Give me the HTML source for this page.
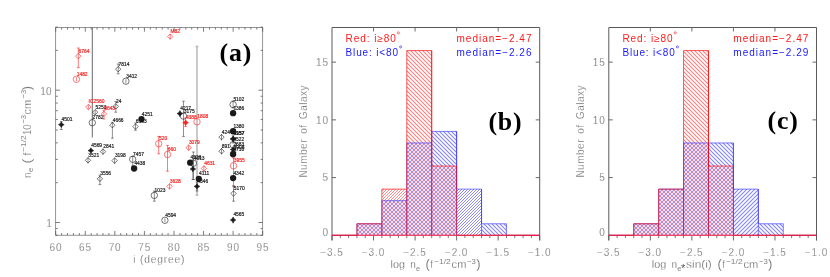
<!DOCTYPE html>
<html><head><meta charset="utf-8"><title>figure</title>
<style>
html,body{margin:0;padding:0;background:#fff;}
body{width:830px;height:277px;overflow:hidden;font-family:"Liberation Sans",sans-serif;}
svg{display:block;font-family:"Liberation Sans",sans-serif;will-change:transform;}
.ser{font-family:"Liberation Serif",serif;}
</style></head><body>
<svg width="830" height="277" viewBox="0 0 830 277">
<defs><pattern id="hrb" width="4" height="4" patternUnits="userSpaceOnUse"><path d="M-1 -1L5 5M-1 3L1 5M3 -1L5 1" stroke="#f00" stroke-width="1.1" stroke-opacity="0.5" fill="none"/></pattern><pattern id="hrf" width="3" height="3" patternUnits="userSpaceOnUse"><path d="M-1 4L4 -1M-1 1L1 -1M2 4L4 2" stroke="#f00" stroke-width="0.9" stroke-opacity="0.5" fill="none"/></pattern><pattern id="hbb" width="4" height="4" patternUnits="userSpaceOnUse"><path d="M-1 -1L5 5M-1 3L1 5M3 -1L5 1" stroke="#00f" stroke-width="1.1" stroke-opacity="0.48" fill="none"/></pattern><pattern id="hbf" width="3" height="3" patternUnits="userSpaceOnUse"><path d="M-1 4L4 -1M-1 1L1 -1M2 4L4 2" stroke="#00f" stroke-width="0.9" stroke-opacity="0.5" fill="none"/></pattern><pattern id="hbF" width="4" height="4" patternUnits="userSpaceOnUse"><path d="M-1 5L5 -1M-1 1L1 -1M3 5L5 3" stroke="#00f" stroke-width="1.1" stroke-opacity="0.48" fill="none"/></pattern><pattern id="hx" width="4" height="4" patternUnits="userSpaceOnUse"><path d="M-1 -1L5 5M-1 3L1 5M3 -1L5 1" stroke="#f00" stroke-width="1.1" stroke-opacity="0.42" fill="none"/><path d="M-1 5L5 -1M-1 1L1 -1M3 5L5 3" stroke="#00f" stroke-width="1.05" stroke-opacity="0.4" fill="none"/></pattern><filter id="bl" x="-2%" y="-2%" width="104%" height="104%"><feGaussianBlur stdDeviation="0.55"/></filter><filter id="blb" x="-2%" y="-2%" width="104%" height="104%"><feGaussianBlur stdDeviation="0.45"/></filter><filter id="blF" x="-2%" y="-2%" width="104%" height="104%"><feGaussianBlur stdDeviation="0.45"/></filter><filter id="blf" x="-2%" y="-2%" width="104%" height="104%"><feGaussianBlur stdDeviation="0.25"/></filter></defs>
<rect width="830" height="277" fill="#fff"/>
<g id="pa">
<rect x="55.7" y="27.5" width="207.00" height="207.70" fill="none" stroke="#666" stroke-width="0.7"/>
<line x1="55.70" y1="235.20" x2="55.70" y2="231.00" stroke="#5a5a5a" stroke-width="0.8" />
<line x1="55.70" y1="27.50" x2="55.70" y2="31.70" stroke="#5a5a5a" stroke-width="0.8" />
<line x1="61.61" y1="235.20" x2="61.61" y2="233.10" stroke="#5a5a5a" stroke-width="0.8" />
<line x1="61.61" y1="27.50" x2="61.61" y2="29.60" stroke="#5a5a5a" stroke-width="0.8" />
<line x1="67.53" y1="235.20" x2="67.53" y2="233.10" stroke="#5a5a5a" stroke-width="0.8" />
<line x1="67.53" y1="27.50" x2="67.53" y2="29.60" stroke="#5a5a5a" stroke-width="0.8" />
<line x1="73.44" y1="235.20" x2="73.44" y2="233.10" stroke="#5a5a5a" stroke-width="0.8" />
<line x1="73.44" y1="27.50" x2="73.44" y2="29.60" stroke="#5a5a5a" stroke-width="0.8" />
<line x1="79.36" y1="235.20" x2="79.36" y2="233.10" stroke="#5a5a5a" stroke-width="0.8" />
<line x1="79.36" y1="27.50" x2="79.36" y2="29.60" stroke="#5a5a5a" stroke-width="0.8" />
<line x1="85.27" y1="235.20" x2="85.27" y2="231.00" stroke="#5a5a5a" stroke-width="0.8" />
<line x1="85.27" y1="27.50" x2="85.27" y2="31.70" stroke="#5a5a5a" stroke-width="0.8" />
<line x1="91.19" y1="235.20" x2="91.19" y2="233.10" stroke="#5a5a5a" stroke-width="0.8" />
<line x1="91.19" y1="27.50" x2="91.19" y2="29.60" stroke="#5a5a5a" stroke-width="0.8" />
<line x1="97.10" y1="235.20" x2="97.10" y2="233.10" stroke="#5a5a5a" stroke-width="0.8" />
<line x1="97.10" y1="27.50" x2="97.10" y2="29.60" stroke="#5a5a5a" stroke-width="0.8" />
<line x1="103.01" y1="235.20" x2="103.01" y2="233.10" stroke="#5a5a5a" stroke-width="0.8" />
<line x1="103.01" y1="27.50" x2="103.01" y2="29.60" stroke="#5a5a5a" stroke-width="0.8" />
<line x1="108.93" y1="235.20" x2="108.93" y2="233.10" stroke="#5a5a5a" stroke-width="0.8" />
<line x1="108.93" y1="27.50" x2="108.93" y2="29.60" stroke="#5a5a5a" stroke-width="0.8" />
<line x1="114.84" y1="235.20" x2="114.84" y2="231.00" stroke="#5a5a5a" stroke-width="0.8" />
<line x1="114.84" y1="27.50" x2="114.84" y2="31.70" stroke="#5a5a5a" stroke-width="0.8" />
<line x1="120.76" y1="235.20" x2="120.76" y2="233.10" stroke="#5a5a5a" stroke-width="0.8" />
<line x1="120.76" y1="27.50" x2="120.76" y2="29.60" stroke="#5a5a5a" stroke-width="0.8" />
<line x1="126.67" y1="235.20" x2="126.67" y2="233.10" stroke="#5a5a5a" stroke-width="0.8" />
<line x1="126.67" y1="27.50" x2="126.67" y2="29.60" stroke="#5a5a5a" stroke-width="0.8" />
<line x1="132.59" y1="235.20" x2="132.59" y2="233.10" stroke="#5a5a5a" stroke-width="0.8" />
<line x1="132.59" y1="27.50" x2="132.59" y2="29.60" stroke="#5a5a5a" stroke-width="0.8" />
<line x1="138.50" y1="235.20" x2="138.50" y2="233.10" stroke="#5a5a5a" stroke-width="0.8" />
<line x1="138.50" y1="27.50" x2="138.50" y2="29.60" stroke="#5a5a5a" stroke-width="0.8" />
<line x1="144.41" y1="235.20" x2="144.41" y2="231.00" stroke="#5a5a5a" stroke-width="0.8" />
<line x1="144.41" y1="27.50" x2="144.41" y2="31.70" stroke="#5a5a5a" stroke-width="0.8" />
<line x1="150.33" y1="235.20" x2="150.33" y2="233.10" stroke="#5a5a5a" stroke-width="0.8" />
<line x1="150.33" y1="27.50" x2="150.33" y2="29.60" stroke="#5a5a5a" stroke-width="0.8" />
<line x1="156.24" y1="235.20" x2="156.24" y2="233.10" stroke="#5a5a5a" stroke-width="0.8" />
<line x1="156.24" y1="27.50" x2="156.24" y2="29.60" stroke="#5a5a5a" stroke-width="0.8" />
<line x1="162.16" y1="235.20" x2="162.16" y2="233.10" stroke="#5a5a5a" stroke-width="0.8" />
<line x1="162.16" y1="27.50" x2="162.16" y2="29.60" stroke="#5a5a5a" stroke-width="0.8" />
<line x1="168.07" y1="235.20" x2="168.07" y2="233.10" stroke="#5a5a5a" stroke-width="0.8" />
<line x1="168.07" y1="27.50" x2="168.07" y2="29.60" stroke="#5a5a5a" stroke-width="0.8" />
<line x1="173.99" y1="235.20" x2="173.99" y2="231.00" stroke="#5a5a5a" stroke-width="0.8" />
<line x1="173.99" y1="27.50" x2="173.99" y2="31.70" stroke="#5a5a5a" stroke-width="0.8" />
<line x1="179.90" y1="235.20" x2="179.90" y2="233.10" stroke="#5a5a5a" stroke-width="0.8" />
<line x1="179.90" y1="27.50" x2="179.90" y2="29.60" stroke="#5a5a5a" stroke-width="0.8" />
<line x1="185.81" y1="235.20" x2="185.81" y2="233.10" stroke="#5a5a5a" stroke-width="0.8" />
<line x1="185.81" y1="27.50" x2="185.81" y2="29.60" stroke="#5a5a5a" stroke-width="0.8" />
<line x1="191.73" y1="235.20" x2="191.73" y2="233.10" stroke="#5a5a5a" stroke-width="0.8" />
<line x1="191.73" y1="27.50" x2="191.73" y2="29.60" stroke="#5a5a5a" stroke-width="0.8" />
<line x1="197.64" y1="235.20" x2="197.64" y2="233.10" stroke="#5a5a5a" stroke-width="0.8" />
<line x1="197.64" y1="27.50" x2="197.64" y2="29.60" stroke="#5a5a5a" stroke-width="0.8" />
<line x1="203.56" y1="235.20" x2="203.56" y2="231.00" stroke="#5a5a5a" stroke-width="0.8" />
<line x1="203.56" y1="27.50" x2="203.56" y2="31.70" stroke="#5a5a5a" stroke-width="0.8" />
<line x1="209.47" y1="235.20" x2="209.47" y2="233.10" stroke="#5a5a5a" stroke-width="0.8" />
<line x1="209.47" y1="27.50" x2="209.47" y2="29.60" stroke="#5a5a5a" stroke-width="0.8" />
<line x1="215.39" y1="235.20" x2="215.39" y2="233.10" stroke="#5a5a5a" stroke-width="0.8" />
<line x1="215.39" y1="27.50" x2="215.39" y2="29.60" stroke="#5a5a5a" stroke-width="0.8" />
<line x1="221.30" y1="235.20" x2="221.30" y2="233.10" stroke="#5a5a5a" stroke-width="0.8" />
<line x1="221.30" y1="27.50" x2="221.30" y2="29.60" stroke="#5a5a5a" stroke-width="0.8" />
<line x1="227.21" y1="235.20" x2="227.21" y2="233.10" stroke="#5a5a5a" stroke-width="0.8" />
<line x1="227.21" y1="27.50" x2="227.21" y2="29.60" stroke="#5a5a5a" stroke-width="0.8" />
<line x1="233.13" y1="235.20" x2="233.13" y2="231.00" stroke="#5a5a5a" stroke-width="0.8" />
<line x1="233.13" y1="27.50" x2="233.13" y2="31.70" stroke="#5a5a5a" stroke-width="0.8" />
<line x1="239.04" y1="235.20" x2="239.04" y2="233.10" stroke="#5a5a5a" stroke-width="0.8" />
<line x1="239.04" y1="27.50" x2="239.04" y2="29.60" stroke="#5a5a5a" stroke-width="0.8" />
<line x1="244.96" y1="235.20" x2="244.96" y2="233.10" stroke="#5a5a5a" stroke-width="0.8" />
<line x1="244.96" y1="27.50" x2="244.96" y2="29.60" stroke="#5a5a5a" stroke-width="0.8" />
<line x1="250.87" y1="235.20" x2="250.87" y2="233.10" stroke="#5a5a5a" stroke-width="0.8" />
<line x1="250.87" y1="27.50" x2="250.87" y2="29.60" stroke="#5a5a5a" stroke-width="0.8" />
<line x1="256.79" y1="235.20" x2="256.79" y2="233.10" stroke="#5a5a5a" stroke-width="0.8" />
<line x1="256.79" y1="27.50" x2="256.79" y2="29.60" stroke="#5a5a5a" stroke-width="0.8" />
<line x1="262.70" y1="235.20" x2="262.70" y2="231.00" stroke="#5a5a5a" stroke-width="0.8" />
<line x1="262.70" y1="27.50" x2="262.70" y2="31.70" stroke="#5a5a5a" stroke-width="0.8" />
<line x1="55.70" y1="235.32" x2="57.80" y2="235.32" stroke="#5a5a5a" stroke-width="0.8" />
<line x1="262.70" y1="235.32" x2="260.60" y2="235.32" stroke="#5a5a5a" stroke-width="0.8" />
<line x1="55.70" y1="228.55" x2="57.80" y2="228.55" stroke="#5a5a5a" stroke-width="0.8" />
<line x1="262.70" y1="228.55" x2="260.60" y2="228.55" stroke="#5a5a5a" stroke-width="0.8" />
<line x1="55.70" y1="222.50" x2="59.90" y2="222.50" stroke="#5a5a5a" stroke-width="0.8" />
<line x1="262.70" y1="222.50" x2="258.50" y2="222.50" stroke="#5a5a5a" stroke-width="0.8" />
<line x1="55.70" y1="182.67" x2="57.80" y2="182.67" stroke="#5a5a5a" stroke-width="0.8" />
<line x1="262.70" y1="182.67" x2="260.60" y2="182.67" stroke="#5a5a5a" stroke-width="0.8" />
<line x1="55.70" y1="159.38" x2="57.80" y2="159.38" stroke="#5a5a5a" stroke-width="0.8" />
<line x1="262.70" y1="159.38" x2="260.60" y2="159.38" stroke="#5a5a5a" stroke-width="0.8" />
<line x1="55.70" y1="142.85" x2="57.80" y2="142.85" stroke="#5a5a5a" stroke-width="0.8" />
<line x1="262.70" y1="142.85" x2="260.60" y2="142.85" stroke="#5a5a5a" stroke-width="0.8" />
<line x1="55.70" y1="130.03" x2="57.80" y2="130.03" stroke="#5a5a5a" stroke-width="0.8" />
<line x1="262.70" y1="130.03" x2="260.60" y2="130.03" stroke="#5a5a5a" stroke-width="0.8" />
<line x1="55.70" y1="119.55" x2="57.80" y2="119.55" stroke="#5a5a5a" stroke-width="0.8" />
<line x1="262.70" y1="119.55" x2="260.60" y2="119.55" stroke="#5a5a5a" stroke-width="0.8" />
<line x1="55.70" y1="110.69" x2="57.80" y2="110.69" stroke="#5a5a5a" stroke-width="0.8" />
<line x1="262.70" y1="110.69" x2="260.60" y2="110.69" stroke="#5a5a5a" stroke-width="0.8" />
<line x1="55.70" y1="103.02" x2="57.80" y2="103.02" stroke="#5a5a5a" stroke-width="0.8" />
<line x1="262.70" y1="103.02" x2="260.60" y2="103.02" stroke="#5a5a5a" stroke-width="0.8" />
<line x1="55.70" y1="96.25" x2="57.80" y2="96.25" stroke="#5a5a5a" stroke-width="0.8" />
<line x1="262.70" y1="96.25" x2="260.60" y2="96.25" stroke="#5a5a5a" stroke-width="0.8" />
<line x1="55.70" y1="90.20" x2="59.90" y2="90.20" stroke="#5a5a5a" stroke-width="0.8" />
<line x1="262.70" y1="90.20" x2="258.50" y2="90.20" stroke="#5a5a5a" stroke-width="0.8" />
<line x1="55.70" y1="50.37" x2="57.80" y2="50.37" stroke="#5a5a5a" stroke-width="0.8" />
<line x1="262.70" y1="50.37" x2="260.60" y2="50.37" stroke="#5a5a5a" stroke-width="0.8" />
<line x1="55.70" y1="27.08" x2="57.80" y2="27.08" stroke="#5a5a5a" stroke-width="0.8" />
<line x1="262.70" y1="27.08" x2="260.60" y2="27.08" stroke="#5a5a5a" stroke-width="0.8" />
<text x="56.00" y="251.10" font-size="10" fill="#444" text-anchor="middle" letter-spacing="0.9" stroke="#fff" stroke-width="0.3" >60</text>
<text x="85.57" y="251.10" font-size="10" fill="#444" text-anchor="middle" letter-spacing="0.9" stroke="#fff" stroke-width="0.3" >65</text>
<text x="115.14" y="251.10" font-size="10" fill="#444" text-anchor="middle" letter-spacing="0.9" stroke="#fff" stroke-width="0.3" >70</text>
<text x="144.71" y="251.10" font-size="10" fill="#444" text-anchor="middle" letter-spacing="0.9" stroke="#fff" stroke-width="0.3" >75</text>
<text x="174.29" y="251.10" font-size="10" fill="#444" text-anchor="middle" letter-spacing="0.9" stroke="#fff" stroke-width="0.3" >80</text>
<text x="203.86" y="251.10" font-size="10" fill="#444" text-anchor="middle" letter-spacing="0.9" stroke="#fff" stroke-width="0.3" >85</text>
<text x="233.43" y="251.10" font-size="10" fill="#444" text-anchor="middle" letter-spacing="0.9" stroke="#fff" stroke-width="0.3" >90</text>
<text x="263.00" y="251.10" font-size="10" fill="#444" text-anchor="middle" letter-spacing="0.9" stroke="#fff" stroke-width="0.3" >95</text>
<text x="51.90" y="94.70" font-size="10" fill="#444" text-anchor="end" letter-spacing="0.2" stroke="#fff" stroke-width="0.3" >10</text>
<text x="51.90" y="226.50" font-size="10" fill="#444" text-anchor="end" letter-spacing="0.2" stroke="#fff" stroke-width="0.3" >1</text>
<text x="159.20" y="262.80" font-size="10.2" fill="#444" text-anchor="middle" letter-spacing="0.85" stroke="#fff" stroke-width="0.3" >i (degree)</text>
<text transform="translate(30.90,178.10) rotate(-90)" font-size="10.2" fill="#444" stroke="#fff" stroke-width="0.3">n</text>
<text transform="translate(33.30,171.90) rotate(-90)" font-size="7.6" fill="#828282" >e</text>
<text transform="translate(30.90,163.20) rotate(-90)" font-size="13" fill="#444" stroke="#fff" stroke-width="0.3">(</text>
<text transform="translate(30.90,155.40) rotate(-90)" font-size="10.2" fill="#444" stroke="#fff" stroke-width="0.3">f</text>
<text transform="translate(26.20,151.80) rotate(-90)" font-size="7.8" fill="#828282"  textLength="16.4" lengthAdjust="spacingAndGlyphs">−1/2</text>
<text transform="translate(30.90,135.10) rotate(-90)" font-size="10.2" fill="#444" stroke="#fff" stroke-width="0.3" textLength="10.8" lengthAdjust="spacingAndGlyphs">10</text>
<text transform="translate(26.20,123.60) rotate(-90)" font-size="7.8" fill="#828282"  textLength="8.6" lengthAdjust="spacingAndGlyphs">−3</text>
<text transform="translate(30.90,114.50) rotate(-90)" font-size="10.2" fill="#444" stroke="#fff" stroke-width="0.3" textLength="14.9" lengthAdjust="spacingAndGlyphs">cm</text>
<text transform="translate(26.20,98.50) rotate(-90)" font-size="7.8" fill="#828282"  textLength="8.6" lengthAdjust="spacingAndGlyphs">−3</text>
<text transform="translate(30.90,90.30) rotate(-90)" font-size="13" fill="#444" stroke="#fff" stroke-width="0.3">)</text>
<line x1="92.30" y1="27.50" x2="92.30" y2="137.50" stroke="#444" stroke-width="0.8" />
<circle cx="92.30" cy="122.70" r="3.2" fill="none" stroke="#1a1a1a" stroke-width="0.6"/>
<text x="92.60" y="119.10" font-size="4.9" fill="#1a1a1a" stroke="#1a1a1a" stroke-width="0.18" letter-spacing="0">2782</text>
<line x1="197.00" y1="46.40" x2="197.00" y2="195.10" stroke="#b8b8b8" stroke-width="1.5" />
<line x1="195.60" y1="46.40" x2="198.40" y2="46.40" stroke="#b8b8b8" stroke-width="1.5" />
<line x1="195.60" y1="195.10" x2="198.40" y2="195.10" stroke="#b8b8b8" stroke-width="1.5" />
<circle cx="197.00" cy="121.80" r="3.2" fill="none" stroke="#fa2020" stroke-width="0.6"/>
<text x="197.30" y="118.20" font-size="4.9" fill="#fa2020" stroke="#fa2020" stroke-width="0.18" letter-spacing="0">1808</text>
<line x1="78.30" y1="48.00" x2="78.30" y2="67.70" stroke="#fa2020" stroke-width="0.6" />
<line x1="76.90" y1="48.00" x2="79.70" y2="48.00" stroke="#fa2020" stroke-width="0.6" />
<line x1="76.90" y1="67.70" x2="79.70" y2="67.70" stroke="#fa2020" stroke-width="0.6" />
<path d="M78.30 53.40L81.00 56.10L78.30 58.80L75.60 56.10Z" fill="none" stroke="#fa2020" stroke-width="0.6"/>
<text x="78.60" y="52.50" font-size="4.9" fill="#fa2020" stroke="#fa2020" stroke-width="0.18" letter-spacing="0">6764</text>
<line x1="76.40" y1="77.30" x2="76.40" y2="81.30" stroke="#fa2020" stroke-width="0.6" />
<circle cx="76.40" cy="79.30" r="3.2" fill="none" stroke="#fa2020" stroke-width="0.6"/>
<text x="76.70" y="75.70" font-size="4.9" fill="#fa2020" stroke="#fa2020" stroke-width="0.18" letter-spacing="0">1482</text>
<line x1="118.20" y1="64.00" x2="118.20" y2="73.80" stroke="#444" stroke-width="0.6" />
<line x1="116.80" y1="64.00" x2="119.60" y2="64.00" stroke="#444" stroke-width="0.6" />
<line x1="116.80" y1="73.80" x2="119.60" y2="73.80" stroke="#444" stroke-width="0.6" />
<path d="M118.20 66.50L120.90 69.20L118.20 71.90L115.50 69.20Z" fill="none" stroke="#1a1a1a" stroke-width="0.6"/>
<text x="118.50" y="65.60" font-size="4.9" fill="#1a1a1a" stroke="#1a1a1a" stroke-width="0.18" letter-spacing="0">7814</text>
<line x1="125.90" y1="79.20" x2="125.90" y2="83.20" stroke="#444" stroke-width="0.6" />
<circle cx="125.90" cy="81.20" r="3.2" fill="none" stroke="#1a1a1a" stroke-width="0.6"/>
<text x="126.20" y="77.60" font-size="4.9" fill="#1a1a1a" stroke="#1a1a1a" stroke-width="0.18" letter-spacing="0">3412</text>
<line x1="88.30" y1="104.50" x2="88.30" y2="109.50" stroke="#fa2020" stroke-width="0.6" />
<path d="M88.30 104.30L91.00 107.00L88.30 109.70L85.60 107.00Z" fill="none" stroke="#fa2020" stroke-width="0.6"/>
<text x="88.60" y="103.40" font-size="4.9" fill="#fa2020" stroke="#fa2020" stroke-width="0.18" letter-spacing="0">IC2560</text>
<line x1="95.20" y1="110.00" x2="95.20" y2="114.50" stroke="#444" stroke-width="0.6" />
<path d="M95.20 109.50L97.90 112.20L95.20 114.90L92.50 112.20Z" fill="none" stroke="#1a1a1a" stroke-width="0.6"/>
<text x="95.50" y="108.60" font-size="4.9" fill="#1a1a1a" stroke="#1a1a1a" stroke-width="0.18" letter-spacing="0">5253</text>
<line x1="103.90" y1="110.30" x2="103.90" y2="119.00" stroke="#fa2020" stroke-width="0.6" />
<line x1="102.50" y1="110.30" x2="105.30" y2="110.30" stroke="#fa2020" stroke-width="0.6" />
<line x1="102.50" y1="119.00" x2="105.30" y2="119.00" stroke="#fa2020" stroke-width="0.6" />
<path d="M103.90 111.20L106.60 113.90L103.90 116.60L101.20 113.90Z" fill="none" stroke="#fa2020" stroke-width="0.6"/>
<text x="104.20" y="110.30" font-size="4.9" fill="#fa2020" stroke="#fa2020" stroke-width="0.18" letter-spacing="0">5643</text>
<line x1="115.80" y1="101.60" x2="115.80" y2="112.20" stroke="#444" stroke-width="0.6" />
<line x1="114.40" y1="101.60" x2="117.20" y2="101.60" stroke="#444" stroke-width="0.6" />
<line x1="114.40" y1="112.20" x2="117.20" y2="112.20" stroke="#444" stroke-width="0.6" />
<path d="M115.80 103.70L118.50 106.40L115.80 109.10L113.10 106.40Z" fill="none" stroke="#1a1a1a" stroke-width="0.6"/>
<text x="116.10" y="102.80" font-size="4.9" fill="#1a1a1a" stroke="#1a1a1a" stroke-width="0.18" letter-spacing="0">24</text>
<circle cx="141.50" cy="119.10" r="3.15" fill="#1a1a1a"/>
<text x="141.80" y="115.50" font-size="4.9" fill="#1a1a1a" stroke="#1a1a1a" stroke-width="0.18" letter-spacing="0">4251</text>
<line x1="61.30" y1="121.60" x2="61.30" y2="129.50" stroke="#444" stroke-width="0.6" />
<line x1="59.90" y1="121.60" x2="62.70" y2="121.60" stroke="#444" stroke-width="0.6" />
<line x1="59.90" y1="129.50" x2="62.70" y2="129.50" stroke="#444" stroke-width="0.6" />
<path d="M61.30 121.80L62.40 123.60L64.20 124.70L62.40 125.80L61.30 127.60L60.20 125.80L58.40 124.70L60.20 123.60Z" fill="#1a1a1a" stroke="#1a1a1a" stroke-width="0.5"/>
<text x="61.60" y="121.10" font-size="4.9" fill="#1a1a1a" stroke="#1a1a1a" stroke-width="0.18" letter-spacing="0">4501</text>
<line x1="112.40" y1="122.30" x2="112.40" y2="138.20" stroke="#444" stroke-width="0.6" />
<line x1="111.00" y1="122.30" x2="113.80" y2="122.30" stroke="#444" stroke-width="0.6" />
<line x1="111.00" y1="138.20" x2="113.80" y2="138.20" stroke="#444" stroke-width="0.6" />
<path d="M112.40 122.50L115.10 125.20L112.40 127.90L109.70 125.20Z" fill="none" stroke="#1a1a1a" stroke-width="0.6"/>
<text x="112.70" y="121.60" font-size="4.9" fill="#1a1a1a" stroke="#1a1a1a" stroke-width="0.18" letter-spacing="0">4666</text>
<line x1="135.50" y1="123.00" x2="135.50" y2="130.20" stroke="#444" stroke-width="0.6" />
<line x1="134.10" y1="123.00" x2="136.90" y2="123.00" stroke="#444" stroke-width="0.6" />
<line x1="134.10" y1="130.20" x2="136.90" y2="130.20" stroke="#444" stroke-width="0.6" />
<path d="M135.50 123.90L138.20 126.60L135.50 129.30L132.80 126.60Z" fill="none" stroke="#1a1a1a" stroke-width="0.6"/>
<text x="135.80" y="123.00" font-size="4.9" fill="#1a1a1a" stroke="#1a1a1a" stroke-width="0.18" letter-spacing="0">6503</text>
<line x1="158.70" y1="136.40" x2="158.70" y2="153.80" stroke="#fa2020" stroke-width="0.6" />
<line x1="157.30" y1="136.40" x2="160.10" y2="136.40" stroke="#fa2020" stroke-width="0.6" />
<line x1="157.30" y1="153.80" x2="160.10" y2="153.80" stroke="#fa2020" stroke-width="0.6" />
<circle cx="158.70" cy="143.70" r="3.2" fill="none" stroke="#fa2020" stroke-width="0.6"/>
<text x="159.00" y="140.10" font-size="4.9" fill="#fa2020" stroke="#fa2020" stroke-width="0.18" letter-spacing="0">520</text>
<line x1="167.50" y1="145.40" x2="167.50" y2="171.20" stroke="#fa2020" stroke-width="0.6" />
<line x1="166.10" y1="145.40" x2="168.90" y2="145.40" stroke="#fa2020" stroke-width="0.6" />
<line x1="166.10" y1="171.20" x2="168.90" y2="171.20" stroke="#fa2020" stroke-width="0.6" />
<circle cx="167.50" cy="154.50" r="3.2" fill="none" stroke="#fa2020" stroke-width="0.6"/>
<text x="167.80" y="150.90" font-size="4.9" fill="#fa2020" stroke="#fa2020" stroke-width="0.18" letter-spacing="0">660</text>
<path d="M90.90 147.70L92.00 149.50L93.80 150.60L92.00 151.70L90.90 153.50L89.80 151.70L88.00 150.60L89.80 149.50Z" fill="#1a1a1a" stroke="#1a1a1a" stroke-width="0.5"/>
<text x="91.20" y="147.00" font-size="4.9" fill="#1a1a1a" stroke="#1a1a1a" stroke-width="0.18" letter-spacing="0">4569</text>
<line x1="103.00" y1="148.50" x2="103.00" y2="154.80" stroke="#444" stroke-width="0.6" />
<path d="M103.00 148.90L105.70 151.60L103.00 154.30L100.30 151.60Z" fill="none" stroke="#1a1a1a" stroke-width="0.6"/>
<text x="103.30" y="148.00" font-size="4.9" fill="#1a1a1a" stroke="#1a1a1a" stroke-width="0.18" letter-spacing="0">2841</text>
<line x1="88.00" y1="157.20" x2="88.00" y2="163.50" stroke="#444" stroke-width="0.6" />
<path d="M88.00 157.60L90.70 160.30L88.00 163.00L85.30 160.30Z" fill="none" stroke="#1a1a1a" stroke-width="0.6"/>
<text x="88.30" y="156.70" font-size="4.9" fill="#1a1a1a" stroke="#1a1a1a" stroke-width="0.18" letter-spacing="0">3521</text>
<line x1="114.60" y1="157.40" x2="114.60" y2="164.00" stroke="#444" stroke-width="0.6" />
<path d="M114.60 157.90L117.30 160.60L114.60 163.30L111.90 160.60Z" fill="none" stroke="#1a1a1a" stroke-width="0.6"/>
<text x="114.90" y="157.00" font-size="4.9" fill="#1a1a1a" stroke="#1a1a1a" stroke-width="0.18" letter-spacing="0">3198</text>
<line x1="132.70" y1="156.50" x2="132.70" y2="166.00" stroke="#444" stroke-width="0.6" />
<line x1="131.30" y1="156.50" x2="134.10" y2="156.50" stroke="#444" stroke-width="0.6" />
<line x1="131.30" y1="166.00" x2="134.10" y2="166.00" stroke="#444" stroke-width="0.6" />
<circle cx="132.70" cy="159.30" r="3.2" fill="none" stroke="#1a1a1a" stroke-width="0.6"/>
<text x="133.00" y="155.70" font-size="4.9" fill="#1a1a1a" stroke="#1a1a1a" stroke-width="0.18" letter-spacing="0">7457</text>
<circle cx="134.10" cy="168.50" r="3.15" fill="#1a1a1a"/>
<text x="134.40" y="164.90" font-size="4.9" fill="#1a1a1a" stroke="#1a1a1a" stroke-width="0.18" letter-spacing="0">4438</text>
<line x1="99.90" y1="175.20" x2="99.90" y2="184.60" stroke="#444" stroke-width="0.6" />
<line x1="98.50" y1="175.20" x2="101.30" y2="175.20" stroke="#444" stroke-width="0.6" />
<line x1="98.50" y1="184.60" x2="101.30" y2="184.60" stroke="#444" stroke-width="0.6" />
<path d="M99.90 176.10L102.60 178.80L99.90 181.50L97.20 178.80Z" fill="none" stroke="#1a1a1a" stroke-width="0.6"/>
<text x="100.20" y="175.20" font-size="4.9" fill="#1a1a1a" stroke="#1a1a1a" stroke-width="0.18" letter-spacing="0">3556</text>
<line x1="154.30" y1="191.00" x2="154.30" y2="201.20" stroke="#444" stroke-width="0.6" />
<line x1="152.90" y1="191.00" x2="155.70" y2="191.00" stroke="#444" stroke-width="0.6" />
<line x1="152.90" y1="201.20" x2="155.70" y2="201.20" stroke="#444" stroke-width="0.6" />
<circle cx="154.30" cy="195.40" r="3.2" fill="none" stroke="#1a1a1a" stroke-width="0.6"/>
<text x="154.60" y="191.80" font-size="4.9" fill="#1a1a1a" stroke="#1a1a1a" stroke-width="0.18" letter-spacing="0">1023</text>
<line x1="164.90" y1="218.30" x2="164.90" y2="222.30" stroke="#444" stroke-width="0.6" />
<circle cx="164.90" cy="220.30" r="3.2" fill="none" stroke="#1a1a1a" stroke-width="0.6"/>
<text x="165.20" y="216.70" font-size="4.9" fill="#1a1a1a" stroke="#1a1a1a" stroke-width="0.18" letter-spacing="0">4594</text>
<line x1="170.20" y1="34.00" x2="170.20" y2="39.20" stroke="#fa2020" stroke-width="0.6" />
<path d="M170.20 33.90L172.90 36.60L170.20 39.30L167.50 36.60Z" fill="none" stroke="#fa2020" stroke-width="0.6"/>
<text x="170.50" y="33.00" font-size="4.9" fill="#fa2020" stroke="#fa2020" stroke-width="0.18" letter-spacing="0">M82</text>
<line x1="179.90" y1="110.50" x2="179.90" y2="116.50" stroke="#444" stroke-width="0.6" />
<path d="M179.90 110.70L181.00 112.50L182.80 113.60L181.00 114.70L179.90 116.50L178.80 114.70L177.00 113.60L178.80 112.50Z" fill="#1a1a1a" stroke="#1a1a1a" stroke-width="0.5"/>
<text x="180.20" y="110.00" font-size="4.9" fill="#1a1a1a" stroke="#1a1a1a" stroke-width="0.18" letter-spacing="0">4217</text>
<line x1="183.50" y1="101.20" x2="183.50" y2="136.40" stroke="#444" stroke-width="0.6" />
<line x1="182.10" y1="101.20" x2="184.90" y2="101.20" stroke="#444" stroke-width="0.6" />
<line x1="182.10" y1="136.40" x2="184.90" y2="136.40" stroke="#444" stroke-width="0.6" />
<circle cx="183.50" cy="116.10" r="3.2" fill="none" stroke="#1a1a1a" stroke-width="0.6"/>
<text x="183.80" y="112.50" font-size="4.9" fill="#1a1a1a" stroke="#1a1a1a" stroke-width="0.18" letter-spacing="0">3175</text>
<line x1="185.60" y1="118.00" x2="185.60" y2="126.60" stroke="#fa2020" stroke-width="0.6" />
<line x1="184.20" y1="118.00" x2="187.00" y2="118.00" stroke="#fa2020" stroke-width="0.6" />
<line x1="184.20" y1="126.60" x2="187.00" y2="126.60" stroke="#fa2020" stroke-width="0.6" />
<path d="M185.60 119.80L186.70 121.60L188.50 122.70L186.70 123.80L185.60 125.60L184.50 123.80L182.70 122.70L184.50 121.60Z" fill="#fa2020" stroke="#fa2020" stroke-width="0.5"/>
<text x="185.90" y="119.10" font-size="4.9" fill="#fa2020" stroke="#fa2020" stroke-width="0.18" letter-spacing="0">4388</text>
<line x1="233.10" y1="101.00" x2="233.10" y2="108.00" stroke="#444" stroke-width="0.6" />
<line x1="231.70" y1="101.00" x2="234.50" y2="101.00" stroke="#444" stroke-width="0.6" />
<line x1="231.70" y1="108.00" x2="234.50" y2="108.00" stroke="#444" stroke-width="0.6" />
<circle cx="233.10" cy="104.50" r="3.2" fill="none" stroke="#1a1a1a" stroke-width="0.6"/>
<text x="233.40" y="100.90" font-size="4.9" fill="#1a1a1a" stroke="#1a1a1a" stroke-width="0.18" letter-spacing="0">5102</text>
<circle cx="233.10" cy="113.20" r="3.15" fill="#1a1a1a"/>
<text x="233.40" y="109.60" font-size="4.9" fill="#1a1a1a" stroke="#1a1a1a" stroke-width="0.18" letter-spacing="0">1386</text>
<circle cx="233.10" cy="131.20" r="3.15" fill="#1a1a1a"/>
<text x="233.40" y="127.60" font-size="4.9" fill="#1a1a1a" stroke="#1a1a1a" stroke-width="0.18" letter-spacing="0">1380</text>
<line x1="221.50" y1="134.00" x2="221.50" y2="140.50" stroke="#444" stroke-width="0.6" />
<path d="M221.50 134.40L224.20 137.10L221.50 139.80L218.80 137.10Z" fill="none" stroke="#1a1a1a" stroke-width="0.6"/>
<text x="221.80" y="133.50" font-size="4.9" fill="#1a1a1a" stroke="#1a1a1a" stroke-width="0.18" letter-spacing="0">4244</text>
<line x1="233.10" y1="135.00" x2="233.10" y2="143.00" stroke="#444" stroke-width="0.6" />
<line x1="231.70" y1="135.00" x2="234.50" y2="135.00" stroke="#444" stroke-width="0.6" />
<line x1="231.70" y1="143.00" x2="234.50" y2="143.00" stroke="#444" stroke-width="0.6" />
<path d="M233.10 136.00L234.20 137.80L236.00 138.90L234.20 140.00L233.10 141.80L232.00 140.00L230.20 138.90L232.00 137.80Z" fill="#1a1a1a" stroke="#1a1a1a" stroke-width="0.5"/>
<text x="233.40" y="135.30" font-size="4.9" fill="#1a1a1a" stroke="#1a1a1a" stroke-width="0.18" letter-spacing="0">4157</text>
<path d="M233.30 136.00L234.40 137.80L236.20 138.90L234.40 140.00L233.30 141.80L232.20 140.00L230.40 138.90L232.20 137.80Z" fill="#1a1a1a" stroke="#1a1a1a" stroke-width="0.5"/>
<text x="233.60" y="135.30" font-size="4.9" fill="#1a1a1a" stroke="#1a1a1a" stroke-width="0.18" letter-spacing="0">3957</text>
<circle cx="233.10" cy="144.70" r="3.2" fill="none" stroke="#1a1a1a" stroke-width="0.6"/>
<text x="233.40" y="141.10" font-size="4.9" fill="#1a1a1a" stroke="#1a1a1a" stroke-width="0.18" letter-spacing="0">4522</text>
<line x1="221.50" y1="148.00" x2="221.50" y2="154.50" stroke="#444" stroke-width="0.6" />
<path d="M221.50 148.50L224.20 151.20L221.50 153.90L218.80 151.20Z" fill="none" stroke="#1a1a1a" stroke-width="0.6"/>
<text x="221.80" y="147.60" font-size="4.9" fill="#1a1a1a" stroke="#1a1a1a" stroke-width="0.18" letter-spacing="0">891</text>
<path d="M233.10 146.60L234.20 148.40L236.00 149.50L234.20 150.60L233.10 152.40L232.00 150.60L230.20 149.50L232.00 148.40Z" fill="#1a1a1a" stroke="#1a1a1a" stroke-width="0.5"/>
<text x="233.40" y="145.90" font-size="4.9" fill="#1a1a1a" stroke="#1a1a1a" stroke-width="0.18" letter-spacing="0">2683</text>
<circle cx="233.10" cy="154.30" r="3.15" fill="#1a1a1a"/>
<text x="233.40" y="150.70" font-size="4.9" fill="#1a1a1a" stroke="#1a1a1a" stroke-width="0.18" letter-spacing="0">4710</text>
<path d="M233.30 149.30L234.40 151.10L236.20 152.20L234.40 153.30L233.30 155.10L232.20 153.30L230.40 152.20L232.20 151.10Z" fill="#1a1a1a" stroke="#1a1a1a" stroke-width="0.5"/>
<text x="233.60" y="148.60" font-size="4.9" fill="#1a1a1a" stroke="#1a1a1a" stroke-width="0.18" letter-spacing="0">5908</text>
<line x1="188.60" y1="145.00" x2="188.60" y2="150.50" stroke="#fa2020" stroke-width="0.6" />
<path d="M188.60 145.00L191.30 147.70L188.60 150.40L185.90 147.70Z" fill="none" stroke="#fa2020" stroke-width="0.6"/>
<text x="188.90" y="144.10" font-size="4.9" fill="#fa2020" stroke="#fa2020" stroke-width="0.18" letter-spacing="0">3079</text>
<circle cx="190.20" cy="162.70" r="3.15" fill="#1a1a1a"/>
<text x="190.50" y="159.10" font-size="4.9" fill="#1a1a1a" stroke="#1a1a1a" stroke-width="0.18" letter-spacing="0">4526</text>
<line x1="193.40" y1="152.00" x2="193.40" y2="179.50" stroke="#444" stroke-width="0.6" />
<line x1="192.00" y1="152.00" x2="194.80" y2="152.00" stroke="#444" stroke-width="0.6" />
<line x1="192.00" y1="179.50" x2="194.80" y2="179.50" stroke="#444" stroke-width="0.6" />
<circle cx="193.40" cy="163.20" r="3.2" fill="none" stroke="#1a1a1a" stroke-width="0.6"/>
<text x="193.70" y="159.60" font-size="4.9" fill="#1a1a1a" stroke="#1a1a1a" stroke-width="0.18" letter-spacing="0">4013</text>
<line x1="192.90" y1="160.00" x2="192.90" y2="179.50" stroke="#444" stroke-width="0.6" />
<line x1="191.50" y1="160.00" x2="194.30" y2="160.00" stroke="#444" stroke-width="0.6" />
<line x1="191.50" y1="179.50" x2="194.30" y2="179.50" stroke="#444" stroke-width="0.6" />
<path d="M192.90 166.10L194.00 167.90L195.80 169.00L194.00 170.10L192.90 171.90L191.80 170.10L190.00 169.00L191.80 167.90Z" fill="#1a1a1a" stroke="#1a1a1a" stroke-width="0.5"/>
<line x1="203.90" y1="165.50" x2="203.90" y2="171.50" stroke="#fa2020" stroke-width="0.6" />
<path d="M203.90 165.80L206.60 168.50L203.90 171.20L201.20 168.50Z" fill="none" stroke="#fa2020" stroke-width="0.6"/>
<text x="204.20" y="164.90" font-size="4.9" fill="#fa2020" stroke="#fa2020" stroke-width="0.18" letter-spacing="0">4631</text>
<circle cx="198.80" cy="178.80" r="3.15" fill="#1a1a1a"/>
<text x="199.10" y="175.20" font-size="4.9" fill="#1a1a1a" stroke="#1a1a1a" stroke-width="0.18" letter-spacing="0">4111</text>
<line x1="197.00" y1="182.00" x2="197.00" y2="191.00" stroke="#444" stroke-width="0.6" />
<line x1="195.60" y1="182.00" x2="198.40" y2="182.00" stroke="#444" stroke-width="0.6" />
<line x1="195.60" y1="191.00" x2="198.40" y2="191.00" stroke="#444" stroke-width="0.6" />
<path d="M197.00 183.50L198.10 185.30L199.90 186.40L198.10 187.50L197.00 189.30L195.90 187.50L194.10 186.40L195.90 185.30Z" fill="#1a1a1a" stroke="#1a1a1a" stroke-width="0.5"/>
<text x="197.30" y="182.80" font-size="4.9" fill="#1a1a1a" stroke="#1a1a1a" stroke-width="0.18" letter-spacing="0">4346</text>
<line x1="233.50" y1="158.00" x2="233.50" y2="186.00" stroke="#fa2020" stroke-width="0.6" />
<line x1="232.10" y1="158.00" x2="234.90" y2="158.00" stroke="#fa2020" stroke-width="0.6" />
<line x1="232.10" y1="186.00" x2="234.90" y2="186.00" stroke="#fa2020" stroke-width="0.6" />
<circle cx="233.50" cy="165.80" r="3.2" fill="none" stroke="#fa2020" stroke-width="0.6"/>
<text x="233.80" y="162.20" font-size="4.9" fill="#fa2020" stroke="#fa2020" stroke-width="0.18" letter-spacing="0">3955</text>
<circle cx="233.10" cy="178.10" r="3.15" fill="#1a1a1a"/>
<text x="233.40" y="174.50" font-size="4.9" fill="#1a1a1a" stroke="#1a1a1a" stroke-width="0.18" letter-spacing="0">4342</text>
<line x1="233.50" y1="186.00" x2="233.50" y2="201.20" stroke="#444" stroke-width="0.6" />
<line x1="232.10" y1="186.00" x2="234.90" y2="186.00" stroke="#444" stroke-width="0.6" />
<line x1="232.10" y1="201.20" x2="234.90" y2="201.20" stroke="#444" stroke-width="0.6" />
<path d="M233.50 190.80L236.20 193.50L233.50 196.20L230.80 193.50Z" fill="none" stroke="#1a1a1a" stroke-width="0.6"/>
<text x="233.80" y="189.90" font-size="4.9" fill="#1a1a1a" stroke="#1a1a1a" stroke-width="0.18" letter-spacing="0">5170</text>
<line x1="233.10" y1="217.00" x2="233.10" y2="223.50" stroke="#444" stroke-width="0.6" />
<path d="M233.10 217.10L234.20 218.90L236.00 220.00L234.20 221.10L233.10 222.90L232.00 221.10L230.20 220.00L232.00 218.90Z" fill="#1a1a1a" stroke="#1a1a1a" stroke-width="0.5"/>
<text x="233.40" y="216.40" font-size="4.9" fill="#1a1a1a" stroke="#1a1a1a" stroke-width="0.18" letter-spacing="0">4565</text>
<line x1="169.50" y1="183.50" x2="169.50" y2="189.30" stroke="#fa2020" stroke-width="0.6" />
<path d="M169.50 183.70L172.20 186.40L169.50 189.10L166.80 186.40Z" fill="none" stroke="#fa2020" stroke-width="0.6"/>
<text x="169.80" y="182.80" font-size="4.9" fill="#fa2020" stroke="#fa2020" stroke-width="0.18" letter-spacing="0">3628</text>
<text x="235.9" y="60.5" font-size="25.8" letter-spacing="0.9" font-weight="bold" fill="#000" text-anchor="middle" class="ser">(a)</text>
</g>
<rect x="356.92" y="223.76" width="24.92" height="11.54" fill="url(#hx)" filter="url(#bl)"/>
<rect x="381.85" y="200.67" width="24.92" height="34.63" fill="url(#hx)" filter="url(#bl)"/>
<rect x="381.85" y="189.12" width="24.92" height="11.54" fill="url(#hrf)" filter="url(#blf)"/>
<rect x="406.77" y="142.94" width="24.92" height="92.36" fill="url(#hx)" filter="url(#bl)"/>
<rect x="406.77" y="50.59" width="24.92" height="92.36" fill="url(#hrb)" filter="url(#blb)"/>
<rect x="431.70" y="166.03" width="24.92" height="69.27" fill="url(#hx)" filter="url(#bl)"/>
<rect x="431.70" y="131.40" width="24.92" height="34.63" fill="url(#hbb)" filter="url(#blb)"/>
<rect x="456.62" y="189.12" width="24.92" height="46.18" fill="url(#hbf)" filter="url(#blf)"/>
<rect x="481.54" y="223.76" width="24.92" height="11.54" fill="url(#hbb)" filter="url(#blb)"/>
<path d="M332.0 240.3L332.0 27.5L539.7 27.5L539.7 240.3" fill="none" stroke="#5a5a5a" stroke-width="1"/>
<path d="M332.00 235.30L356.92 235.30L356.92 223.76L381.85 223.76L381.85 235.30M381.85 223.76L381.85 200.67L406.77 200.67L406.77 235.30M406.77 200.67L406.77 142.94L431.70 142.94L431.70 235.30M431.70 142.94L431.70 131.40L456.62 131.40L456.62 235.30M456.62 131.40L456.62 189.12L481.54 189.12L481.54 235.30M481.54 189.12L481.54 223.76L506.47 223.76L506.47 235.30M506.47 223.76M506.47 235.30L539.70 235.30" fill="none" stroke="#22f" stroke-width="0.92" stroke-opacity="0.62"/>
<path d="M332.00 235.30L356.92 235.30L356.92 223.76L381.85 223.76L381.85 235.30M381.85 223.76L381.85 189.12L406.77 189.12L406.77 235.30M406.77 189.12L406.77 50.59L431.70 50.59L431.70 235.30M431.70 50.59L431.70 166.03L456.62 166.03L456.62 235.30M456.62 166.03M456.62 235.30L539.70 235.30" fill="none" stroke="#f00" stroke-width="0.92" stroke-opacity="0.7"/>
<line x1="332.00" y1="235.30" x2="539.70" y2="235.30" stroke="#e8123a" stroke-width="1.1" />
<line x1="332.00" y1="235.80" x2="332.00" y2="240.50" stroke="#5a5a5a" stroke-width="0.9" />
<text x="332.00" y="255.50" font-size="10" fill="#444" text-anchor="middle" letter-spacing="0.95" stroke="#fff" stroke-width="0.3" >−3.5</text>
<line x1="340.31" y1="235.80" x2="340.31" y2="238.10" stroke="#5a5a5a" stroke-width="0.8" />
<line x1="348.62" y1="235.80" x2="348.62" y2="238.10" stroke="#5a5a5a" stroke-width="0.8" />
<line x1="356.92" y1="235.80" x2="356.92" y2="238.10" stroke="#5a5a5a" stroke-width="0.8" />
<line x1="365.23" y1="235.80" x2="365.23" y2="238.10" stroke="#5a5a5a" stroke-width="0.8" />
<line x1="373.54" y1="235.80" x2="373.54" y2="240.50" stroke="#5a5a5a" stroke-width="0.9" />
<line x1="373.54" y1="27.50" x2="373.54" y2="31.50" stroke="#5a5a5a" stroke-width="0.9" />
<text x="373.54" y="255.50" font-size="10" fill="#444" text-anchor="middle" letter-spacing="0.95" stroke="#fff" stroke-width="0.3" >−3.0</text>
<line x1="381.85" y1="235.80" x2="381.85" y2="238.10" stroke="#5a5a5a" stroke-width="0.8" />
<line x1="390.16" y1="235.80" x2="390.16" y2="238.10" stroke="#5a5a5a" stroke-width="0.8" />
<line x1="398.46" y1="235.80" x2="398.46" y2="238.10" stroke="#5a5a5a" stroke-width="0.8" />
<line x1="406.77" y1="235.80" x2="406.77" y2="238.10" stroke="#5a5a5a" stroke-width="0.8" />
<line x1="415.08" y1="235.80" x2="415.08" y2="240.50" stroke="#5a5a5a" stroke-width="0.9" />
<line x1="415.08" y1="27.50" x2="415.08" y2="31.50" stroke="#5a5a5a" stroke-width="0.9" />
<text x="415.08" y="255.50" font-size="10" fill="#444" text-anchor="middle" letter-spacing="0.95" stroke="#fff" stroke-width="0.3" >−2.5</text>
<line x1="423.39" y1="235.80" x2="423.39" y2="238.10" stroke="#5a5a5a" stroke-width="0.8" />
<line x1="431.70" y1="235.80" x2="431.70" y2="238.10" stroke="#5a5a5a" stroke-width="0.8" />
<line x1="440.00" y1="235.80" x2="440.00" y2="238.10" stroke="#5a5a5a" stroke-width="0.8" />
<line x1="448.31" y1="235.80" x2="448.31" y2="238.10" stroke="#5a5a5a" stroke-width="0.8" />
<line x1="456.62" y1="235.80" x2="456.62" y2="240.50" stroke="#5a5a5a" stroke-width="0.9" />
<line x1="456.62" y1="27.50" x2="456.62" y2="31.50" stroke="#5a5a5a" stroke-width="0.9" />
<text x="456.62" y="255.50" font-size="10" fill="#444" text-anchor="middle" letter-spacing="0.95" stroke="#fff" stroke-width="0.3" >−2.0</text>
<line x1="464.93" y1="235.80" x2="464.93" y2="238.10" stroke="#5a5a5a" stroke-width="0.8" />
<line x1="473.24" y1="235.80" x2="473.24" y2="238.10" stroke="#5a5a5a" stroke-width="0.8" />
<line x1="481.54" y1="235.80" x2="481.54" y2="238.10" stroke="#5a5a5a" stroke-width="0.8" />
<line x1="489.85" y1="235.80" x2="489.85" y2="238.10" stroke="#5a5a5a" stroke-width="0.8" />
<line x1="498.16" y1="235.80" x2="498.16" y2="240.50" stroke="#5a5a5a" stroke-width="0.9" />
<line x1="498.16" y1="27.50" x2="498.16" y2="31.50" stroke="#5a5a5a" stroke-width="0.9" />
<text x="498.16" y="255.50" font-size="10" fill="#444" text-anchor="middle" letter-spacing="0.95" stroke="#fff" stroke-width="0.3" >−1.5</text>
<line x1="506.47" y1="235.80" x2="506.47" y2="238.10" stroke="#5a5a5a" stroke-width="0.8" />
<line x1="514.78" y1="235.80" x2="514.78" y2="238.10" stroke="#5a5a5a" stroke-width="0.8" />
<line x1="523.08" y1="235.80" x2="523.08" y2="238.10" stroke="#5a5a5a" stroke-width="0.8" />
<line x1="531.39" y1="235.80" x2="531.39" y2="238.10" stroke="#5a5a5a" stroke-width="0.8" />
<line x1="539.70" y1="235.80" x2="539.70" y2="240.50" stroke="#5a5a5a" stroke-width="0.9" />
<text x="539.70" y="255.50" font-size="10" fill="#444" text-anchor="middle" letter-spacing="0.95" stroke="#fff" stroke-width="0.3" >−1.0</text>
<text x="329.00" y="235.50" font-size="10" fill="#444" text-anchor="end" letter-spacing="0.9" stroke="#fff" stroke-width="0.3" >0</text>
<line x1="332.00" y1="177.58" x2="336.00" y2="177.58" stroke="#5a5a5a" stroke-width="0.9" />
<line x1="539.70" y1="177.58" x2="535.70" y2="177.58" stroke="#5a5a5a" stroke-width="0.9" />
<text x="329.00" y="181.48" font-size="10" fill="#444" text-anchor="end" letter-spacing="0.9" stroke="#fff" stroke-width="0.3" >5</text>
<line x1="332.00" y1="119.86" x2="336.00" y2="119.86" stroke="#5a5a5a" stroke-width="0.9" />
<line x1="539.70" y1="119.86" x2="535.70" y2="119.86" stroke="#5a5a5a" stroke-width="0.9" />
<text x="329.00" y="123.76" font-size="10" fill="#444" text-anchor="end" letter-spacing="0.9" stroke="#fff" stroke-width="0.3" >10</text>
<line x1="332.00" y1="62.13" x2="336.00" y2="62.13" stroke="#5a5a5a" stroke-width="0.9" />
<line x1="539.70" y1="62.13" x2="535.70" y2="62.13" stroke="#5a5a5a" stroke-width="0.9" />
<text x="329.00" y="66.03" font-size="10" fill="#444" text-anchor="end" letter-spacing="0.9" stroke="#fff" stroke-width="0.3" >15</text>
<text transform="translate(307.2,131.3) rotate(-90)" font-size="10" fill="#444" stroke="#fff" stroke-width="0.3" text-anchor="middle" letter-spacing="0.5" word-spacing="2">Number of Galaxy</text>
<text x="390.50" y="268.00" font-size="10" fill="#444" stroke="#fff" stroke-width="0.3" textLength="14.4" lengthAdjust="spacingAndGlyphs">log</text>
<text x="410.30" y="268.00" font-size="10" fill="#444" stroke="#fff" stroke-width="0.3">n</text>
<text x="416.10" y="270.60" font-size="7.4" fill="#828282" >e</text>
<text x="425.50" y="268.30" font-size="13" fill="#444" stroke="#fff" stroke-width="0.3">(</text>
<text x="430.30" y="268.00" font-size="10" fill="#444" stroke="#fff" stroke-width="0.3">f</text>
<text x="434.00" y="263.60" font-size="7.6" fill="#828282"  textLength="16.7" lengthAdjust="spacingAndGlyphs">−1/2</text>
<text x="451.60" y="268.00" font-size="10" fill="#444" stroke="#fff" stroke-width="0.3" textLength="14.8" lengthAdjust="spacingAndGlyphs">cm</text>
<text x="467.10" y="263.60" font-size="7.6" fill="#828282"  textLength="8.8" lengthAdjust="spacingAndGlyphs">−3</text>
<text x="476.20" y="268.30" font-size="13" fill="#444" stroke="#fff" stroke-width="0.3">)</text>
<text x="345.6" y="41.6" font-size="10" fill="#ff1a1a" letter-spacing="0.85" textLength="51" lengthAdjust="spacing">Red: i≥80</text>
<circle cx="398.4" cy="32.8" r="1.05" fill="none" stroke="#ff1a1a" stroke-width="0.6"/>
<text x="345.6" y="55.7" font-size="10" fill="#1a1aff" letter-spacing="0.85" textLength="53.2" lengthAdjust="spacing">Blue: i&lt;80</text>
<circle cx="400.6" cy="46.9" r="1.05" fill="none" stroke="#1a1aff" stroke-width="0.6"/>
<text x="456.5" y="41.6" font-size="10" fill="#ff1a1a" textLength="75" lengthAdjust="spacing">median=−2.47</text>
<text x="456.5" y="55.7" font-size="10" fill="#1a1aff" textLength="75" lengthAdjust="spacing">median=−2.26</text>
<text x="505.5" y="130.1" font-size="25.8" letter-spacing="0.9" font-weight="bold" fill="#000" text-anchor="middle" class="ser">(b)</text>
<rect x="633.72" y="223.76" width="24.92" height="11.54" fill="url(#hx)" filter="url(#bl)"/>
<rect x="658.65" y="189.12" width="24.92" height="46.18" fill="url(#hx)" filter="url(#bl)"/>
<rect x="683.57" y="142.94" width="24.92" height="92.36" fill="url(#hx)" filter="url(#bl)"/>
<rect x="683.57" y="50.59" width="24.92" height="92.36" fill="url(#hrb)" filter="url(#blb)"/>
<rect x="708.50" y="166.03" width="24.92" height="69.27" fill="url(#hx)" filter="url(#bl)"/>
<rect x="708.50" y="142.94" width="24.92" height="23.09" fill="url(#hbb)" filter="url(#blb)"/>
<rect x="733.42" y="189.12" width="24.92" height="46.18" fill="url(#hbF)" filter="url(#blF)"/>
<rect x="758.34" y="223.76" width="24.92" height="11.54" fill="url(#hbb)" filter="url(#blb)"/>
<path d="M608.8 240.3L608.8 27.5L816.5 27.5L816.5 240.3" fill="none" stroke="#5a5a5a" stroke-width="1"/>
<path d="M608.80 235.30L633.72 235.30L633.72 223.76L658.65 223.76L658.65 235.30M658.65 223.76L658.65 189.12L683.57 189.12L683.57 235.30M683.57 189.12L683.57 142.94L708.50 142.94L708.50 235.30M708.50 142.94L708.50 142.94L733.42 142.94L733.42 235.30M733.42 142.94L733.42 189.12L758.34 189.12L758.34 235.30M758.34 189.12L758.34 223.76L783.27 223.76L783.27 235.30M783.27 223.76M783.27 235.30L816.50 235.30" fill="none" stroke="#22f" stroke-width="0.92" stroke-opacity="0.62"/>
<path d="M608.80 235.30L633.72 235.30L633.72 223.76L658.65 223.76L658.65 235.30M658.65 223.76L658.65 189.12L683.57 189.12L683.57 235.30M683.57 189.12L683.57 50.59L708.50 50.59L708.50 235.30M708.50 50.59L708.50 166.03L733.42 166.03L733.42 235.30M733.42 166.03M733.42 235.30L816.50 235.30" fill="none" stroke="#f00" stroke-width="0.92" stroke-opacity="0.7"/>
<line x1="608.80" y1="235.30" x2="816.50" y2="235.30" stroke="#e8123a" stroke-width="1.1" />
<line x1="608.80" y1="235.80" x2="608.80" y2="240.50" stroke="#5a5a5a" stroke-width="0.9" />
<text x="608.80" y="255.50" font-size="10" fill="#444" text-anchor="middle" letter-spacing="0.95" stroke="#fff" stroke-width="0.3" >−3.5</text>
<line x1="617.11" y1="235.80" x2="617.11" y2="238.10" stroke="#5a5a5a" stroke-width="0.8" />
<line x1="625.42" y1="235.80" x2="625.42" y2="238.10" stroke="#5a5a5a" stroke-width="0.8" />
<line x1="633.72" y1="235.80" x2="633.72" y2="238.10" stroke="#5a5a5a" stroke-width="0.8" />
<line x1="642.03" y1="235.80" x2="642.03" y2="238.10" stroke="#5a5a5a" stroke-width="0.8" />
<line x1="650.34" y1="235.80" x2="650.34" y2="240.50" stroke="#5a5a5a" stroke-width="0.9" />
<line x1="650.34" y1="27.50" x2="650.34" y2="31.50" stroke="#5a5a5a" stroke-width="0.9" />
<text x="650.34" y="255.50" font-size="10" fill="#444" text-anchor="middle" letter-spacing="0.95" stroke="#fff" stroke-width="0.3" >−3.0</text>
<line x1="658.65" y1="235.80" x2="658.65" y2="238.10" stroke="#5a5a5a" stroke-width="0.8" />
<line x1="666.96" y1="235.80" x2="666.96" y2="238.10" stroke="#5a5a5a" stroke-width="0.8" />
<line x1="675.26" y1="235.80" x2="675.26" y2="238.10" stroke="#5a5a5a" stroke-width="0.8" />
<line x1="683.57" y1="235.80" x2="683.57" y2="238.10" stroke="#5a5a5a" stroke-width="0.8" />
<line x1="691.88" y1="235.80" x2="691.88" y2="240.50" stroke="#5a5a5a" stroke-width="0.9" />
<line x1="691.88" y1="27.50" x2="691.88" y2="31.50" stroke="#5a5a5a" stroke-width="0.9" />
<text x="691.88" y="255.50" font-size="10" fill="#444" text-anchor="middle" letter-spacing="0.95" stroke="#fff" stroke-width="0.3" >−2.5</text>
<line x1="700.19" y1="235.80" x2="700.19" y2="238.10" stroke="#5a5a5a" stroke-width="0.8" />
<line x1="708.50" y1="235.80" x2="708.50" y2="238.10" stroke="#5a5a5a" stroke-width="0.8" />
<line x1="716.80" y1="235.80" x2="716.80" y2="238.10" stroke="#5a5a5a" stroke-width="0.8" />
<line x1="725.11" y1="235.80" x2="725.11" y2="238.10" stroke="#5a5a5a" stroke-width="0.8" />
<line x1="733.42" y1="235.80" x2="733.42" y2="240.50" stroke="#5a5a5a" stroke-width="0.9" />
<line x1="733.42" y1="27.50" x2="733.42" y2="31.50" stroke="#5a5a5a" stroke-width="0.9" />
<text x="733.42" y="255.50" font-size="10" fill="#444" text-anchor="middle" letter-spacing="0.95" stroke="#fff" stroke-width="0.3" >−2.0</text>
<line x1="741.73" y1="235.80" x2="741.73" y2="238.10" stroke="#5a5a5a" stroke-width="0.8" />
<line x1="750.04" y1="235.80" x2="750.04" y2="238.10" stroke="#5a5a5a" stroke-width="0.8" />
<line x1="758.34" y1="235.80" x2="758.34" y2="238.10" stroke="#5a5a5a" stroke-width="0.8" />
<line x1="766.65" y1="235.80" x2="766.65" y2="238.10" stroke="#5a5a5a" stroke-width="0.8" />
<line x1="774.96" y1="235.80" x2="774.96" y2="240.50" stroke="#5a5a5a" stroke-width="0.9" />
<line x1="774.96" y1="27.50" x2="774.96" y2="31.50" stroke="#5a5a5a" stroke-width="0.9" />
<text x="774.96" y="255.50" font-size="10" fill="#444" text-anchor="middle" letter-spacing="0.95" stroke="#fff" stroke-width="0.3" >−1.5</text>
<line x1="783.27" y1="235.80" x2="783.27" y2="238.10" stroke="#5a5a5a" stroke-width="0.8" />
<line x1="791.58" y1="235.80" x2="791.58" y2="238.10" stroke="#5a5a5a" stroke-width="0.8" />
<line x1="799.88" y1="235.80" x2="799.88" y2="238.10" stroke="#5a5a5a" stroke-width="0.8" />
<line x1="808.19" y1="235.80" x2="808.19" y2="238.10" stroke="#5a5a5a" stroke-width="0.8" />
<line x1="816.50" y1="235.80" x2="816.50" y2="240.50" stroke="#5a5a5a" stroke-width="0.9" />
<text x="816.50" y="255.50" font-size="10" fill="#444" text-anchor="middle" letter-spacing="0.95" stroke="#fff" stroke-width="0.3" >−1.0</text>
<text x="605.80" y="235.50" font-size="10" fill="#444" text-anchor="end" letter-spacing="0.9" stroke="#fff" stroke-width="0.3" >0</text>
<line x1="608.80" y1="177.58" x2="612.80" y2="177.58" stroke="#5a5a5a" stroke-width="0.9" />
<line x1="816.50" y1="177.58" x2="812.50" y2="177.58" stroke="#5a5a5a" stroke-width="0.9" />
<text x="605.80" y="181.48" font-size="10" fill="#444" text-anchor="end" letter-spacing="0.9" stroke="#fff" stroke-width="0.3" >5</text>
<line x1="608.80" y1="119.86" x2="612.80" y2="119.86" stroke="#5a5a5a" stroke-width="0.9" />
<line x1="816.50" y1="119.86" x2="812.50" y2="119.86" stroke="#5a5a5a" stroke-width="0.9" />
<text x="605.80" y="123.76" font-size="10" fill="#444" text-anchor="end" letter-spacing="0.9" stroke="#fff" stroke-width="0.3" >10</text>
<line x1="608.80" y1="62.13" x2="612.80" y2="62.13" stroke="#5a5a5a" stroke-width="0.9" />
<line x1="816.50" y1="62.13" x2="812.50" y2="62.13" stroke="#5a5a5a" stroke-width="0.9" />
<text x="605.80" y="66.03" font-size="10" fill="#444" text-anchor="end" letter-spacing="0.9" stroke="#fff" stroke-width="0.3" >15</text>
<text transform="translate(584.0,131.3) rotate(-90)" font-size="10" fill="#444" stroke="#fff" stroke-width="0.3" text-anchor="middle" letter-spacing="0.5" word-spacing="2">Number of Galaxy</text>
<text x="651.80" y="268.00" font-size="10" fill="#444" stroke="#fff" stroke-width="0.3" textLength="14.4" lengthAdjust="spacingAndGlyphs">log</text>
<text x="671.40" y="268.00" font-size="10" fill="#444" stroke="#fff" stroke-width="0.3">n</text>
<text x="677.30" y="270.60" font-size="7.4" fill="#828282" >e</text>
<text x="681.1" y="271.7" font-size="11" fill="#555">*</text>
<text x="686.10" y="268.00" font-size="10" fill="#444" stroke="#fff" stroke-width="0.3" textLength="25.7" lengthAdjust="spacingAndGlyphs">sin(i)</text>
<text x="717.40" y="268.30" font-size="13" fill="#444" stroke="#fff" stroke-width="0.3">(</text>
<text x="722.20" y="268.00" font-size="10" fill="#444" stroke="#fff" stroke-width="0.3">f</text>
<text x="725.90" y="263.60" font-size="7.6" fill="#828282"  textLength="16.7" lengthAdjust="spacingAndGlyphs">−1/2</text>
<text x="743.50" y="268.00" font-size="10" fill="#444" stroke="#fff" stroke-width="0.3" textLength="14.8" lengthAdjust="spacingAndGlyphs">cm</text>
<text x="759.00" y="263.60" font-size="7.6" fill="#828282"  textLength="8.8" lengthAdjust="spacingAndGlyphs">−3</text>
<text x="768.10" y="268.30" font-size="13" fill="#444" stroke="#fff" stroke-width="0.3">)</text>
<text x="622.4000000000001" y="41.6" font-size="10" fill="#ff1a1a" letter-spacing="0.85" textLength="51" lengthAdjust="spacing">Red: i≥80</text>
<circle cx="675.2" cy="32.8" r="1.05" fill="none" stroke="#ff1a1a" stroke-width="0.6"/>
<text x="622.4000000000001" y="55.7" font-size="10" fill="#1a1aff" letter-spacing="0.85" textLength="53.2" lengthAdjust="spacing">Blue: i&lt;80</text>
<circle cx="677.4000000000001" cy="46.9" r="1.05" fill="none" stroke="#1a1aff" stroke-width="0.6"/>
<text x="733.3" y="41.6" font-size="10" fill="#ff1a1a" textLength="75" lengthAdjust="spacing">median=−2.47</text>
<text x="733.3" y="55.7" font-size="10" fill="#1a1aff" textLength="75" lengthAdjust="spacing">median=−2.29</text>
<text x="783.1" y="129.3" font-size="25.8" letter-spacing="0.9" font-weight="bold" fill="#000" text-anchor="middle" class="ser">(c)</text>
</svg>
</body></html>
